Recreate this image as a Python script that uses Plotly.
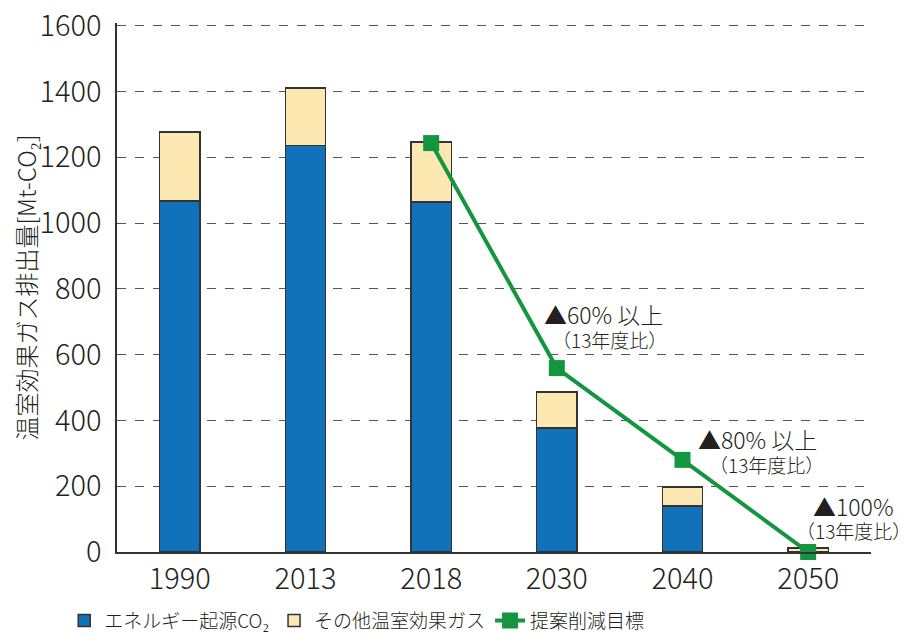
import plotly.graph_objects as go

years = ["1990", "2013", "2018", "2030", "2040", "2050"]
energy_co2 = [1067, 1235, 1064, 377, 140, 0]
other_ghg = [210, 176, 182, 109, 58, 12]
target_years = ["2018", "2030", "2040", "2050"]
target_vals = [1243, 559, 280, 0]
y_ticks = [0, 200, 400, 600, 800, 1000, 1200, 1400, 1600]

FONT = "Noto Sans CJK JP"
BLUE = "#1172b9"
YELLOW = "#fde8b1"
GREEN = "#149640"
EDGE = "#333333"
TXT = "#231f20"

fig = go.Figure()
fig.add_trace(go.Bar(x=years, y=energy_co2, name="エネルギー起源CO₂",
                     marker=dict(color=BLUE, line=dict(color=EDGE, width=1.5)),
                     width=0.32))
fig.add_trace(go.Bar(x=years, y=other_ghg, name="その他温室効果ガス",
                     marker=dict(color=YELLOW, line=dict(color=EDGE, width=1.5)),
                     width=0.32))
fig.add_trace(go.Scatter(x=target_years, y=target_vals, name="提案削減目標",
                         mode="lines+markers",
                         line=dict(color=GREEN, width=4),
                         marker=dict(symbol="square", size=16, color=GREEN),
                         cliponaxis=False))

annos = [
    (3.37, 722, "▲60% 以上", 23),
    (3.42, 646, "（13年度比）", 19),
    (4.60, 342, "▲80% 以上", 23),
    (4.67, 267, "（13年度比）", 19),
    (5.36, 139, "▲100%", 23),
    (5.36, 64, "（13年度比）", 19),
]
for x, y, t, s in annos:
    fig.add_annotation(x=x, y=y, text=t, showarrow=False,
                       font=dict(family=FONT, size=s, color=TXT, weight=300),
                       xanchor="center", yanchor="middle")

fig.update_layout(
    width=902, height=627,
    barmode="stack",
    plot_bgcolor="white", paper_bgcolor="white",
    margin=dict(l=109, r=39, t=15, b=83, autoexpand=False),
    font=dict(family=FONT, color=TXT),
    showlegend=True,
    legend=dict(orientation="h", x=-0.07, xanchor="left", y=-0.13, yanchor="middle",
                font=dict(size=19, family=FONT, weight=300), traceorder="normal",
                itemwidth=30, tracegroupgap=0),
    xaxis=dict(type="category", range=[-0.5, 5.5], showgrid=False, automargin=False,
               showline=True, linecolor=EDGE, linewidth=1.5,
               ticks="", tickfont=dict(size=29, family=FONT, weight=300)),
    yaxis=dict(range=[0, 1608], tickvals=y_ticks, showgrid=True, automargin=False,
               gridcolor="#555555", griddash="dash", gridwidth=1,
               showline=True, linecolor=EDGE, linewidth=1.5, zeroline=False,
               ticks="", ticklabelstandoff=8, ticklabeloverflow="allow",
               tickfont=dict(size=29, family=FONT, weight=300),
               title=dict(text="温室効果ガス排出量[Mt-CO₂]",
                          font=dict(size=24, family=FONT, weight=300), standoff=2)),
)

fig.write_html("out.html")
